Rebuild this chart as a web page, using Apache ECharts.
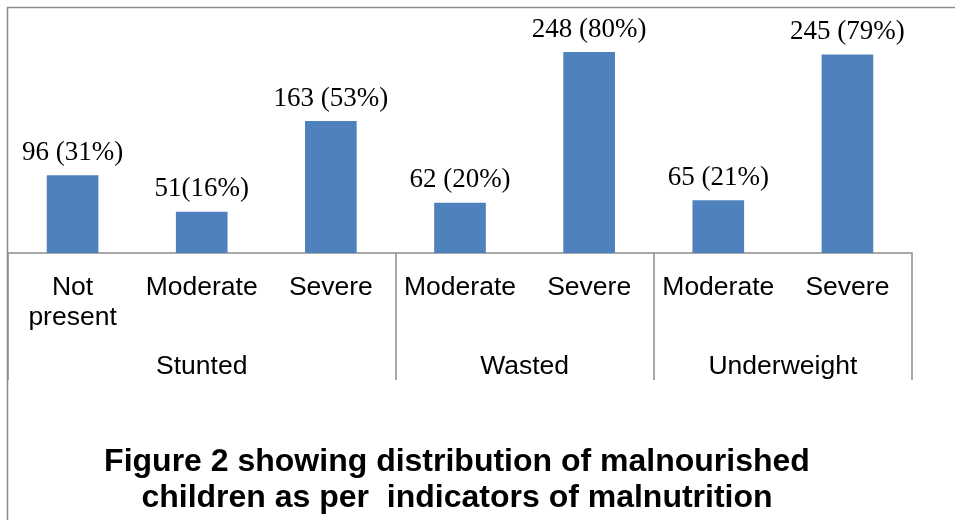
<!DOCTYPE html>
<html>
<head>
<meta charset="utf-8">
<script src="https://cdn.jsdelivr.net/npm/echarts@6/dist/echarts.min.js"></script>
<style>
  html, body { margin: 0; padding: 0; background: #fff; }
  #chart { width: 955px; height: 520px; }
</style>
</head>
<body>
<div id="chart"></div>
<script>
// data
var categories = ['Not\npresent', 'Moderate', 'Severe', 'Moderate', 'Severe', 'Moderate', 'Severe'];
var counts = [96, 51, 163, 62, 248, 65, 245];
var barLabels = ['96 (31%)', '51(16%)', '163 (53%)', '62 (20%)', '248 (80%)', '65 (21%)', '245 (79%)'];
var groups = ['Stunted', 'Wasted', 'Underweight'];
var groupSizes = [3, 2, 2];

// group boundaries and centres, in category units
var bounds = [0];
var centres = [];
groupSizes.forEach(function (n, i) {
  centres.push(bounds[i] + n / 2);
  bounds.push(bounds[i] + n);
});

var myChart = echarts.init(document.getElementById('chart'));
var grey = '#8c8c8c';

var option = {
  animation: false,
  backgroundColor: '#fff',
  title: {
    text: 'Figure 2 showing distribution of malnourished\nchildren as per  indicators of malnutrition',
    left: 452,
    top: 439,
    textAlign: 'center',
    textStyle: {
      fontFamily: 'Liberation Sans',
      fontWeight: 'bold',
      fontSize: 32,
      lineHeight: 36,
      color: '#000'
    }
  },
  grid: { left: 8, right: 43, top: 10, bottom: 267, containLabel: false },
  xAxis: [
    {
      type: 'category',
      data: categories,
      axisTick: { show: false },
      axisLine: { lineStyle: { color: grey, width: 1.5 } },
      axisLabel: {
        interval: 0,
        margin: 20,
        fontFamily: 'Liberation Sans',
        fontSize: 26.5,
        lineHeight: 30,
        color: '#000'
      }
    },
    {
      type: 'value',
      min: 0,
      max: bounds[bounds.length - 1],
      position: 'bottom',
      splitLine: { show: false },
      axisLine: { show: false },
      axisTick: {
        show: true,
        customValues: bounds,
        length: 127,
        lineStyle: { color: grey, width: 1.5 }
      },
      axisLabel: {
        customValues: centres,
        margin: 100,
        fontFamily: 'Liberation Sans',
        fontSize: 26.5,
        color: '#000',
        formatter: function (v) {
          var i = centres.indexOf(v);
          return i >= 0 ? groups[i] : '';
        }
      }
    }
  ],
  yAxis: { type: 'value', min: 0, max: 300, show: false },
  series: [{
    type: 'bar',
    xAxisIndex: 0,
    data: counts,
    barWidth: '40%',
    itemStyle: { color: '#4f81bd' },
    label: {
      show: true,
      position: 'top',
      distance: 9,
      fontFamily: 'Liberation Serif',
      fontSize: 27,
      color: '#000',
      formatter: function (p) { return barLabels[p.dataIndex]; }
    }
  }],
  graphic: [
    { type: 'line', shape: { x1: 7.5, y1: 7, x2: 7.5, y2: 520 }, style: { stroke: grey, lineWidth: 1.5 } },
    { type: 'line', shape: { x1: 7, y1: 7.5, x2: 955, y2: 7.5 }, style: { stroke: grey, lineWidth: 1.5 } }
  ]
};

myChart.setOption(option);
</script>
</body>
</html>
